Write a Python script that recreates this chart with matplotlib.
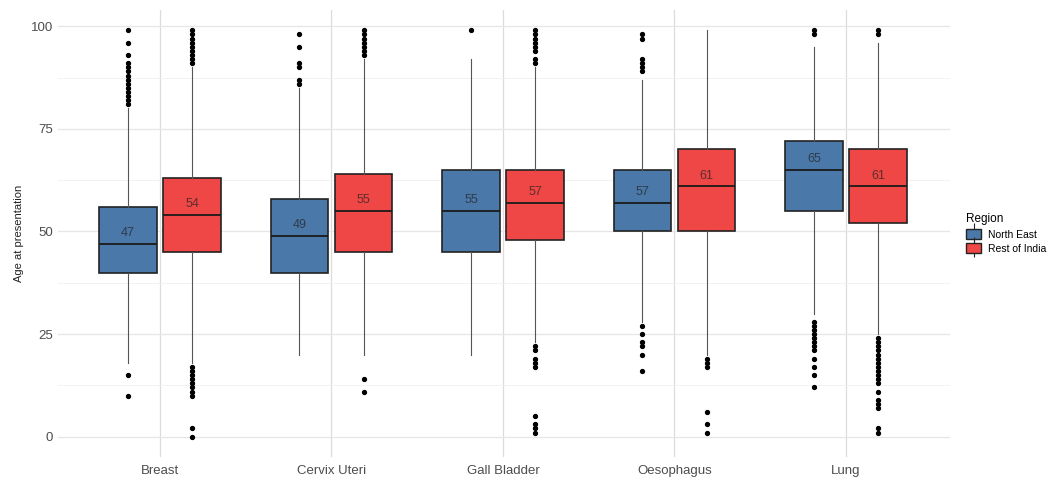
import numpy as np
import matplotlib
matplotlib.use("Agg")
import matplotlib.pyplot as plt
from matplotlib.patches import Patch
from matplotlib.lines import Line2D
from matplotlib.ticker import MultipleLocator

plt.rcParams["font.family"] = ["Liberation Sans", "DejaVu Sans"]

# Sites and groups
sites = ["Breast", "Cervix Uteri", "Gall Bladder", "Oesophagus", "Lung"]
regions = ["North East", "Rest of India"]
colors = ["#4a78a8", "#ef4646"]

# Box summaries: (q1, median, q3, whisker low, whisker high)
ne_q1 = [40, 40, 45, 50, 55]
ne_med = [47, 49, 55, 57, 65]
ne_q3 = [56, 58, 65, 65, 72]
ne_lo = [18, 20, 20, 28, 30]
ne_hi = [80, 85, 92, 87, 95]

ri_q1 = [45, 45, 48, 50, 52]
ri_med = [54, 55, 57, 61, 61]
ri_q3 = [63, 64, 65, 70, 70]
ri_lo = [18, 20, 23, 20, 25]
ri_hi = [90, 92, 90, 99, 96]

# Outliers
ne_fliers = [
    [81, 82, 83, 84, 85, 86, 87, 88, 89, 90, 91, 93, 96, 99, 15, 10],
    [86, 87, 90, 91, 95, 98],
    [99],
    [89, 90, 91, 92, 97, 98, 27, 25, 23, 22, 20, 16],
    [98, 99, 28, 27, 26, 25, 24, 23, 22, 21, 19, 17, 15, 12],
]
ri_fliers = [
    [91, 92, 93, 94, 95, 96, 97, 98, 99, 17, 16, 15, 14, 13, 12, 11, 10, 2, 0],
    [93, 94, 95, 96, 97, 98, 99, 14, 11],
    [91, 92, 94, 95, 96, 97, 98, 99, 22, 21, 19, 18, 17, 5, 3, 2, 1],
    [19, 18, 17, 6, 3, 1],
    [98, 99, 24, 23, 22, 21, 20, 19, 18, 17, 16, 15, 14, 13, 11, 9, 8, 7, 2, 1],
]


def make_stats(q1, med, q3, lo, hi, fliers):
    out = []
    for i in range(len(q1)):
        out.append(dict(q1=q1[i], med=med[i], q3=q3[i], whislo=lo[i],
                        whishi=hi[i], fliers=fliers[i]))
    return out


groups = [
    make_stats(ne_q1, ne_med, ne_q3, ne_lo, ne_hi, ne_fliers),
    make_stats(ri_q1, ri_med, ri_q3, ri_lo, ri_hi, ri_fliers),
]

fig = plt.figure(figsize=(10.5, 4.8), dpi=100)
ax = fig.add_axes([0.0552, 0.048, 0.8496, 0.931])

base = np.arange(1, len(sites) + 1)
offsets = [-0.187, 0.187]
width = 0.335

for g, stats in enumerate(groups):
    pos = base + offsets[g]
    ax.bxp(stats, positions=pos, widths=width, patch_artist=True,
           showcaps=False,
           boxprops=dict(facecolor=colors[g], edgecolor="#222222", linewidth=1.2),
           medianprops=dict(color="#1a1a1a", linewidth=1.3),
           whiskerprops=dict(color="#555555", linewidth=0.8),
           flierprops=dict(marker="o", markerfacecolor="black",
                           markeredgecolor="black", markersize=2.8),
           zorder=3)
    for p, s in zip(pos, stats):
        ax.text(p, s["med"] + 2.6, str(s["med"]), ha="center", va="center",
                fontsize=9, color="#222222", alpha=0.7, zorder=4)

ax.set_xlim(0.405, 5.607)
ax.set_ylim(-4.95, 103.95)
ax.set_xticks(base)
ax.set_xticklabels(sites)
ax.yaxis.set_major_locator(MultipleLocator(25))
ax.yaxis.set_minor_locator(MultipleLocator(12.5))
ax.set_ylabel("Age at presentation", fontsize=8, color="#222222", labelpad=5)

ax.grid(which="major", axis="y", color="#e6e6e6", linewidth=0.9, zorder=0)
ax.grid(which="minor", axis="y", color="#f0f0f0", linewidth=0.6, zorder=0)
ax.grid(which="major", axis="x", color="#dcdcdc", linewidth=0.9, zorder=0)
ax.set_axisbelow(True)
for sp in ax.spines.values():
    sp.set_visible(False)
ax.tick_params(axis="both", which="both", length=0, labelsize=9.5,
               labelcolor="#4d4d4d")
ax.tick_params(axis="x", pad=6)

handles = []
for i in range(len(regions)):
    bar = Line2D([], [], marker="|", color="#222222", linestyle="None",
                 markersize=14, markeredgewidth=0.8)
    box = Patch(facecolor=colors[i], edgecolor="#222222")
    handles.append((bar, box))
leg = ax.legend(handles=handles, labels=regions, title="Region",
                loc="center left", bbox_to_anchor=(1.01, 0.5), frameon=False,
                fontsize=7.5, title_fontsize=8.5, handlelength=1.4,
                handleheight=1.1, handletextpad=0.7, borderaxespad=0.3,
                labelspacing=0.35)
leg._legend_box.align = "left"

fig.savefig("out.png", dpi=100)
